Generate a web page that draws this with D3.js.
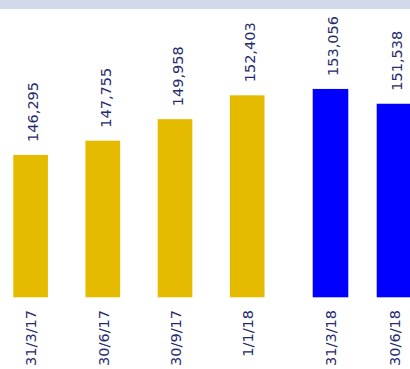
<!DOCTYPE html>
<html>
<head>
<meta charset="utf-8">
<script src="https://cdn.jsdelivr.net/npm/d3@7"></script>
<style>
  html, body { margin: 0; padding: 0; background: #ffffff; }
  svg { display: block; }
</style>
</head>
<body>
<script>
// Quarter-end balances, two period groups
const priorDates = ["31/3/17", "30/6/17", "30/9/17", "1/1/18"];
const priorValues = [146295, 147755, 149958, 152403];
const currentDates = ["31/3/18", "30/6/18"];
const currentValues = [153056, 151538];

const width = 410, height = 369;
const baseY = 297.3, topY = 9;

const svg = d3.select("body").append("svg")
  .attr("width", width).attr("height", height);

// header band
svg.append("rect")
  .attr("x", 0).attr("y", 0).attr("width", width).attr("height", topY)
  .attr("fill", "#d2d9ea");

// value axis (truncated, not zero-based)
const y = d3.scaleLinear().domain([131700, 161250]).range([baseY, topY]);

const xPrior = d3.scaleBand().domain(priorDates)
  .range([-5.5, 283.3]).paddingInner(0.52).paddingOuter(0.26);
const xCurrent = d3.scaleBand().domain(currentDates)
  .range([298.5, 426.5]).paddingInner(0.444).paddingOuter(0.222);

const groups = [
  { dates: priorDates, values: priorValues, x: xPrior, color: "#e5bb00" },
  { dates: currentDates, values: currentValues, x: xCurrent, color: "#0000ff" }
];

const fmt = d3.format(",");
const labelColor = "#262a6e";
const font = "'DejaVu Sans', Verdana, sans-serif";

groups.forEach(g => {
  const data = g.dates.map((d, i) => ({ date: d, value: g.values[i] }));
  const layer = svg.append("g");

  layer.selectAll("rect.bar").data(data).enter().append("rect")
    .attr("class", "bar")
    .attr("x", d => g.x(d.date))
    .attr("width", g.x.bandwidth())
    .attr("y", d => y(d.value))
    .attr("height", d => baseY - y(d.value))
    .attr("fill", g.color);

  // value labels, rotated, above each bar
  layer.selectAll("text.val").data(data).enter().append("text")
    .attr("class", "val")
    .attr("transform", d => `translate(${g.x(d.date) + g.x.bandwidth() / 2 + 2.6},${y(d.value) - 13}) rotate(-90)`)
    .attr("dy", "0.36em")
    .attr("text-anchor", "start")
    .attr("font-family", font)
    .attr("font-size", "14.5px")
    .attr("fill", labelColor)
    .text(d => fmt(d.value));

  // category labels, rotated, below the bars
  layer.selectAll("text.cat").data(data).enter().append("text")
    .attr("class", "cat")
    .attr("transform", d => `translate(${g.x(d.date) + g.x.bandwidth() / 2 + 0.5},310) rotate(-90)`)
    .attr("dy", "0.36em")
    .attr("text-anchor", "end")
    .attr("font-family", font)
    .attr("font-size", "14.5px")
    .attr("fill", labelColor)
    .text(d => d.date);
});
</script>
</body>
</html>
